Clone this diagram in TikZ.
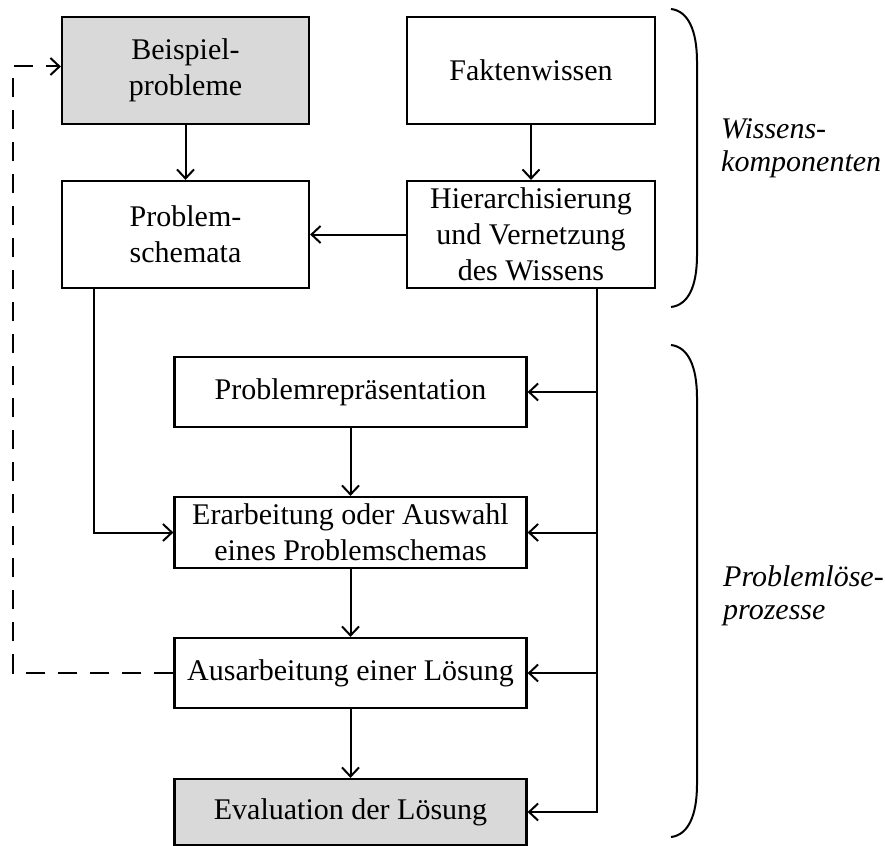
\documentclass[tikz,border=0pt]{standalone}
\usepackage{fontspec}
\setmainfont{Liberation Serif}
\usetikzlibrary{arrows.meta,calc}
\begin{document}
\begin{tikzpicture}[x=1pt,y=-1pt,
  box/.style={draw, line width=2.2pt, inner sep=0pt, align=center,
    font=\fontsize{30}{36}\selectfont},
  shaded/.style={fill=gray!30},
  conn/.style={line width=2pt, -{Straight Barb[length=9pt,width=17pt,line width=2pt]}},
  dashedconn/.style={line width=2pt, dash pattern=on 19pt off 13pt,
    -{Straight Barb[length=9pt,width=17pt,line width=2pt]}},
  brace/.style={line width=2pt},
  sidelabel/.style={anchor=west, align=left, inner sep=0pt,
    font=\fontsize{30}{33}\selectfont\itshape}]
\useasboundingbox (0,0) rectangle (885,845);

\node[box,shaded,minimum width=247pt,minimum height=107pt] (bp) at (185.5,70.5) {Beispiel-\\probleme};
\node[box,minimum width=248pt,minimum height=107pt] (fw) at (531,70.5) {Faktenwissen};
\node[box,minimum width=247pt,minimum height=107pt] (ps) at (185.5,234.5) {Problem-\\schemata};
\node[box,minimum width=248pt,minimum height=107pt] (hv) at (531,234.5) {Hierarchisierung\\und Vernetzung\\des Wissens};

\node[box,minimum width=352pt,minimum height=70pt] (pr) at (350.5,392) {Problemrepräsentation};
\node[box,minimum width=352pt,minimum height=71pt] (ea) at (350.5,532.5) {Erarbeitung oder Auswahl\\eines Problemschemas};
\node[box,minimum width=352pt,minimum height=70pt] (al) at (350.5,673) {Ausarbeitung einer Lösung};
\node[box,shaded,minimum width=352pt,minimum height=66pt] (ev) at (350.5,812) {Evaluation der Lösung};

\coordinate (rx) at (597,0);
\coordinate (lx) at (94,0);
\coordinate (dx) at (13,0);
\coordinate (bpin) at ([yshift=4pt]bp.west);

\draw[conn] (bp.south) -- (ps.north);
\draw[conn] (fw.south) -- (hv.north);
\draw[conn] (hv.west) -- (ps.east);
\draw[conn] (pr.south) -- (ea.north);
\draw[conn] (ea.south) -- (al.north);
\draw[conn] (al.south) -- (ev.north);

\draw[conn] (hv.south -| rx) |- (ev.east);
\draw[conn] (pr.east -| rx) -- (pr.east);
\draw[conn] (ea.east -| rx) -- (ea.east);
\draw[conn] (al.east -| rx) -- (al.east);

\draw[conn] (ps.south -| lx) |- (ea.west);

\draw[dashedconn] (al.west) -- (al.west -| dx) -- (bpin -| dx) -- (bpin);

\draw[brace] (671,9) .. controls (688,11) and (697,30) .. (697,62)
  -- (697,255) .. controls (697,287) and (688,305) .. (671,307);
\draw[brace] (671,345) .. controls (688,347) and (697,366) .. (697,398)
  -- (697,784) .. controls (697,816) and (688,835) .. (671,837);

\node[sidelabel] (wk) at (721,148) {Wissens-\\komponenten};
\node[sidelabel] (pl) at (723,596) {Problemlöse-\\prozesse};
\end{tikzpicture}
\end{document}
